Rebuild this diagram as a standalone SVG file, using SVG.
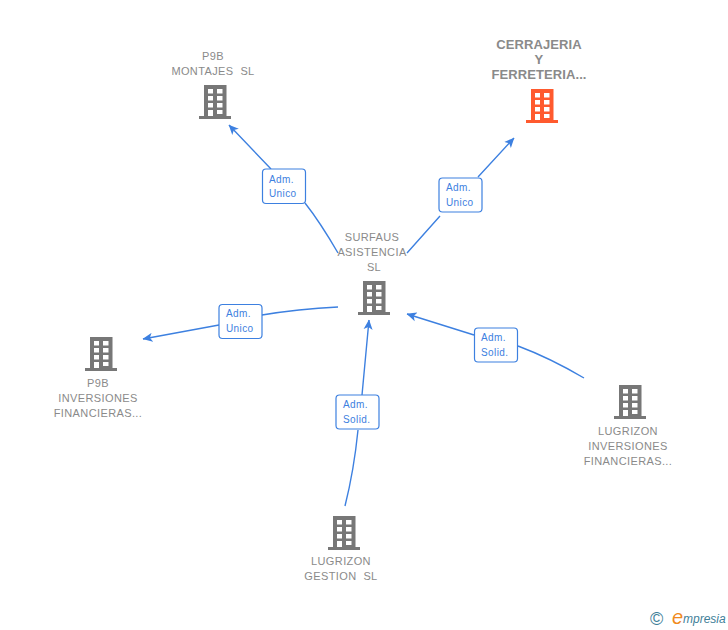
<svg xmlns="http://www.w3.org/2000/svg" width="728" height="630" viewBox="0 0 728 630">
<style>
text{font-family:"Liberation Sans",Arial,sans-serif;white-space:pre}
.n{font-size:11px;fill:#8a8a8a;text-anchor:middle;letter-spacing:.38px}
.t{font-size:13px;font-weight:bold;fill:#8a8a8a;text-anchor:middle;letter-spacing:.1px}
.c{fill:none;stroke:#3d80e0;stroke-width:1.4}
.b{fill:#fff;stroke:#3d80e0;stroke-width:1.2}
.l{font-size:10px;fill:#3d80e0;letter-spacing:.4px}
</style>
<defs>
<marker id="a" markerWidth="10" markerHeight="10" refX="9.500" refY="5" orient="auto" markerUnits="userSpaceOnUse" viewBox="0 0 10 10"><path d="M0 0.500L10 5L0 9.500L2.500 5Z" fill="#3d80e0"/></marker>
<symbol id="i" viewBox="0 0 32 34" width="32" height="34"><path fill-rule="evenodd" d="M5 0H27.500V31H32V34H0V31H5ZM9 4V8.500H14V4ZM18 4V8.500H23.500V4ZM9 11V15.500H14V11ZM18 11V15.500H23.500V11ZM9 18V22.500H14V18ZM18 18V22.500H23.500V18ZM9 25V31H14V25ZM18 25V29H23.500V25Z"/></symbol>
</defs>
<g id="connectors">
<path class="c" d="M338 253Q320 222 305 203M271 169L229 125" marker-end="url(#a)"/>
<path class="c" d="M407 253L440 216M478 177L514 138" marker-end="url(#a)"/>
<path class="c" d="M338 307Q298 309 262 315M219 325L143 339" marker-end="url(#a)"/>
<path class="c" d="M584 378Q550 358 518 346M474 335L407 314" marker-end="url(#a)"/>
<path class="c" d="M345 506Q354 470 358 430M362 395L369 320" marker-end="url(#a)"/>
</g>
<g id="edge-labels">
<g><rect class="b" x="262.500" y="169" width="43" height="34.500" rx="3.500"/><text class="l" x="269" y="183">Adm.</text><text class="l" x="269" y="197">Unico</text></g>
<g><rect class="b" x="439" y="178" width="43" height="34" rx="3.500"/><text class="l" x="446" y="191">Adm.</text><text class="l" x="446" y="206">Unico</text></g>
<g><rect class="b" x="219" y="304.500" width="43" height="34" rx="3.500"/><text class="l" x="226" y="317">Adm.</text><text class="l" x="226" y="332">Unico</text></g>
<g><rect class="b" x="474.500" y="328" width="43" height="34" rx="3.500"/><text class="l" x="481" y="341">Adm.</text><text class="l" x="481" y="356">Solid.</text></g>
<g><rect class="b" x="336" y="395" width="43" height="34" rx="3.500"/><text class="l" x="343" y="408">Adm.</text><text class="l" x="343" y="423">Solid.</text></g>
</g>
<g id="node-p9b-montajes" fill="#777">
<text class="n" x="213" y="60">P9B</text><text class="n" x="213" y="75">MONTAJES  SL</text>
<use href="#i" x="199" y="85"/></g>
<g id="node-cerrajeria" fill="#ff5a2e">
<text class="t" x="539" y="49">CERRAJERIA</text><text class="t" x="539" y="64">Y</text><text class="t" x="539" y="79">FERRETERIA...</text>
<use href="#i" x="526" y="89"/></g>
<g id="node-surfaus" fill="#777">
<text class="n" x="372" y="241">SURFAUS</text><text class="n" x="372" y="256">ASISTENCIA</text><text class="n" x="374" y="271">SL</text>
<use href="#i" x="358" y="281"/></g>
<g id="node-p9b-inversiones" fill="#777">
<use href="#i" x="85" y="337"/>
<text class="n" x="98" y="387">P9B</text><text class="n" x="98" y="402">INVERSIONES</text><text class="n" x="98" y="417">FINANCIERAS...</text></g>
<g id="node-lugrizon-inversiones" fill="#777">
<use href="#i" x="614" y="385"/>
<text class="n" x="628" y="435">LUGRIZON</text><text class="n" x="628" y="450">INVERSIONES</text><text class="n" x="628" y="465">FINANCIERAS...</text></g>
<g id="node-lugrizon-gestion" fill="#777">
<use href="#i" x="328" y="516"/>
<text class="n" x="341" y="565">LUGRIZON</text><text class="n" x="341" y="580">GESTION  SL</text></g>
<g id="logo">
<text x="650" y="625" font-size="18" fill="#3f7f99">©</text>
<text x="672" y="624" font-size="20" font-style="italic" fill="#f08a1d" font-family="Liberation Serif,serif">e</text>
<text x="683" y="623" font-size="12" font-style="italic" fill="#3f7f99">mpresia</text>
</g>
</svg>
